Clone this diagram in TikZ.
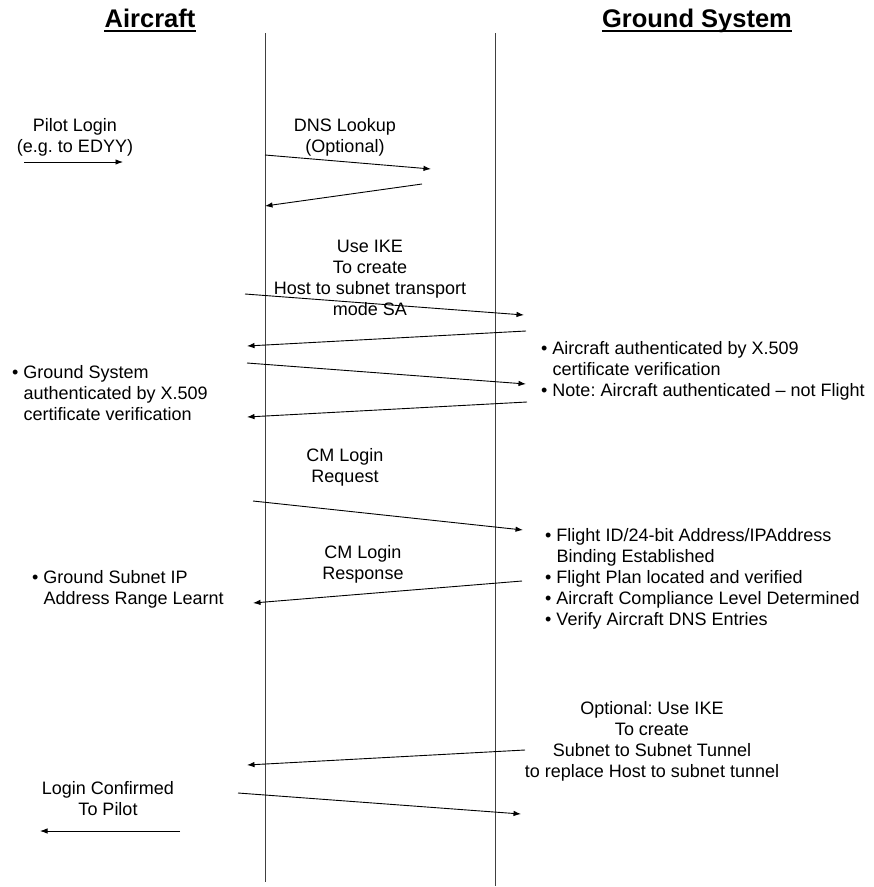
\documentclass[tikz,border=0pt]{standalone}
\usepackage{fontspec}
\setmainfont{Liberation Sans}
\usetikzlibrary{arrows.meta}
\frenchspacing
\begin{document}
\begin{tikzpicture}[x=1pt,y=-1pt,
  txt/.style={font=\fontsize{18}{21}\selectfont, inner sep=0pt, align=center},
  btxt/.style={font=\fontsize{18}{21}\selectfont, inner sep=0pt, align=left, anchor=west},
  msg/.style={-{Latex[length=7.5pt,width=5.5pt]}, line width=0.9pt},
  life/.style={line width=0.8pt, black!75},
  ttl/.style={font=\fontsize{25.5}{30}\selectfont\bfseries, inner sep=0pt, anchor=base}]
\useasboundingbox (0,0) rectangle (874,887);

% titles
\node[ttl] (tA) at (150,27) {Aircraft};
\node[ttl] (tG) at (697,27) {Ground System};
\draw[line width=1.3pt] ([yshift=-4pt]tA.base west) -- ([yshift=-4pt]tA.base east);
\draw[line width=1.3pt] ([yshift=-4pt]tG.base west) -- ([yshift=-4pt]tG.base east);

% lifelines
\coordinate (L1) at (265,33);
\coordinate (L2) at (265,882);
\coordinate (R1) at (495,33);
\coordinate (R2) at (495,886);
\draw[life] (L1) -- (L2);
\draw[life] (R1) -- (R2);

% message end points
\coordinate (pA) at (24,162);  \coordinate (pB) at (123,162);
\coordinate (d1) at (265,155); \coordinate (d2) at (431,169);
\coordinate (d3) at (422,184); \coordinate (d4) at (265,206);
\coordinate (i1) at (245,294); \coordinate (i2) at (524,315);
\coordinate (i3) at (526,331); \coordinate (i4) at (247,346);
\coordinate (i5) at (247,363); \coordinate (i6) at (526,384);
\coordinate (i7) at (527,402); \coordinate (i8) at (247,417);
\coordinate (c1) at (253,501); \coordinate (c2) at (523,530);
\coordinate (c3) at (522,581); \coordinate (c4) at (253,603);
\coordinate (o1) at (525,750); \coordinate (o2) at (247,765);
\coordinate (o3) at (238,793); \coordinate (o4) at (521,814);
\coordinate (q1) at (180,831); \coordinate (q2) at (40,831);

\draw[msg] (pA) -- (pB);
\draw[msg] (d1) -- (d2);
\draw[msg] (d3) -- (d4);
\draw[msg] (i1) -- (i2);
\draw[msg] (i3) -- (i4);
\draw[msg] (i5) -- (i6);
\draw[msg] (i7) -- (i8);
\draw[msg] (c1) -- (c2);
\draw[msg] (c3) -- (c4);
\draw[msg] (o1) -- (o2);
\draw[msg] (o3) -- (o4);
\draw[msg] (q1) -- (q2);

% labels
\node[txt] (pilot) at (75,137) {Pilot Login\\(e.g. to EDYY)};
\node[txt] (dns) at (345,137) {DNS Lookup\\(Optional)};
\node[txt] (ike) at (370,278) {Use IKE\\To create\\Host to subnet transport\\mode SA};
\node[btxt] (authR) at (541,370.5) {• Aircraft authenticated by X.509\\\hphantom{• }certificate verification\\• Note: Aircraft authenticated – not Flight};
\node[btxt] (authL) at (12,393) {• Ground System\\\hphantom{• }authenticated by X.509\\\hphantom{• }certificate verification};
\node[txt] (cmreq) at (345,467) {CM Login\\Request};
\node[txt] (cmresp) at (363,564) {CM Login\\Response};
\node[btxt] (bindR) at (545,578.5) {• Flight ID/24-bit Address/IPAddress\\\hphantom{• }Binding Established\\• Flight Plan located and verified\\• Aircraft Compliance Level Determined\\• Verify Aircraft DNS Entries};
\node[btxt] (subL) at (32,589.5) {• Ground Subnet IP\\\hphantom{• }Address Range Learnt};
\node[txt] (opt) at (652,741) {Optional: Use IKE\\To create\\Subnet to Subnet Tunnel\\to replace Host to subnet tunnel};
\node[txt] (conf) at (108,798.5) {Login Confirmed\\To Pilot};
\end{tikzpicture}
\end{document}
